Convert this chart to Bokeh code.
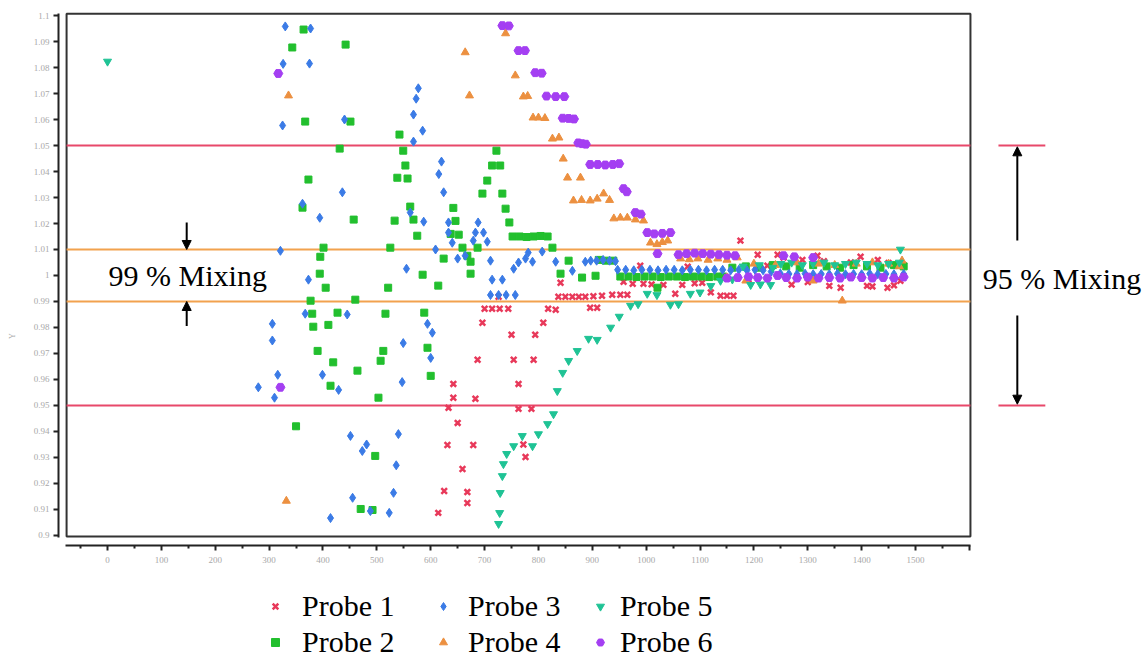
from bokeh.plotting import figure
from bokeh.models import (Range1d, FixedTicker, CustomJSTickFormatter, Label, Arrow, NormalHead,
                          Legend, LegendItem)
from bokeh.embed import file_html
from bokeh.resources import INLINE

# ---------------- data ----------------
probe1 = [(614, 0.9087), (625, 0.9171), (668, 0.9167), (668, 0.9125), (659, 0.9256), (631, 0.9348),
          (679, 0.9348), (650, 0.9433), (633, 0.9491), (642, 0.9530), (683, 0.9526), (642, 0.9583),
          (687, 0.9676), (776, 0.9302), (772, 0.9350), (763, 0.9487), (787, 0.9487), (763, 0.9583),
          (754, 0.9676), (791, 0.9676), (750, 0.9772), (794, 0.9772), (696, 0.9818), (809, 0.9818),
          (700, 0.9872), (714, 0.9872), (728, 0.9872), (744, 0.9872), (818, 0.9872), (832, 0.9868),
          (726, 0.9918), (837, 0.9918), (850, 0.9918), (863, 0.9918), (875, 0.9918), (887, 0.9918),
          (841, 0.9972), (896, 0.9876), (909, 0.9876), (902, 0.9920), (918, 0.9922), (937, 0.9926),
          (952, 0.9926), (965, 0.9926), (958, 0.9976), (989, 1.0038), (975, 0.9968), (995, 0.9968),
          (1010, 0.9966), (1032, 0.9964), (1054, 0.9930), (1067, 0.9964), (1077, 1.0034), (1090, 0.9970),
          (1104, 0.9972), (1120, 0.9935), (1138, 0.9922), (1150, 0.9922), (1162, 0.9922), (1175, 1.0134),
          (1190, 0.9985), (1207, 1.0080), (1225, 1.0038), (1244, 1.0080), (1255, 1.0069), (1270, 0.9965),
          (1290, 1.0060), (1300, 0.9975), (1318, 1.0076), (1330, 1.0055), (1340, 0.9960), (1361, 0.9953),
          (1380, 1.0050), (1398, 1.0072), (1410, 0.9960), (1420, 0.9958), (1430, 1.0060), (1448, 0.9953),
          (1450, 1.0048), (1460, 0.9962), (1472, 0.9980), (1478, 1.0040)]

probe2 = [(364, 1.0946), (343, 1.0877), (442, 1.0888), (367, 1.0592), (451, 1.0592), (542, 1.0542),
          (431, 1.0488), (549, 1.0480), (553, 1.0423), (373, 1.0369), (538, 1.0376), (557, 1.0373),
          (362, 1.0261), (457, 1.0215), (562, 1.0265), (533, 1.0211), (568, 1.0215), (575, 1.0153),
          (401, 1.0107), (525, 1.0107), (395, 1.0072), (394, 1.0007), (585, 1.0003), (405, 0.9953),
          (521, 0.9953), (460, 0.9907), (377, 0.9903), (380, 0.9853), (427, 0.9857), (516, 0.9853),
          (588, 0.9857), (382, 0.9803), (410, 0.9810), (390, 0.9710), (512, 0.9710), (594, 0.9722),
          (419, 0.9666), (507, 0.9672), (464, 0.9634), (414, 0.9576), (503, 0.9530), (350, 0.9420),
          (497, 0.9306), (470, 0.9102), (492, 0.9098), (600, 0.9614),
          (722, 1.0480), (714, 1.0423), (729, 1.0423), (705, 1.0365), (696, 1.0315), (733, 1.0315),
          (642, 1.0260), (739, 1.0257), (646, 1.0210), (746, 1.0204), (652, 1.0157), (637, 1.0160),
          (752, 1.0150), (765, 1.0150), (778, 1.0148), (791, 1.0150), (804, 1.0152), (817, 1.0150),
          (826, 1.0107), (659, 1.0107), (687, 1.0107), (624, 1.0065), (674, 1.0053), (668, 1.0076),
          (674, 1.0007), (614, 0.9961), (856, 1.0057), (841, 1.0007), (881, 0.9992), (906, 0.9999),
          (912, 1.0060), (925, 1.0057), (939, 1.0057), (952, 0.9996), (967, 0.9996), (982, 0.9994),
          (997, 0.9996), (1012, 0.9996), (1021, 0.9953), (1027, 0.9994), (1042, 0.9996), (1057, 0.9996),
          (1072, 0.9994), (1087, 0.9996), (1102, 0.9996), (1117, 0.9994), (1132, 0.9996), (1143, 0.9996),
          (1160, 1.0030), (1185, 1.0035), (1210, 1.0030), (1235, 1.0040), (1260, 1.0035), (1285, 1.0030),
          (1310, 1.0040), (1335, 1.0035), (1360, 1.0030), (1385, 1.0040), (1410, 1.0035), (1435, 1.0030),
          (1460, 1.0040), (1478, 1.0035)]

probe3 = [(330, 1.0958), (377, 1.0950), (326, 1.0814), (375, 1.0815), (577, 1.0720), (573, 1.0680),
          (568, 1.0619), (325, 1.0577), (440, 1.0600), (585, 1.0557), (568, 1.0515), (436, 1.0320),
          (362, 1.0276), (394, 1.0222), (562, 1.0242), (587, 1.0207), (321, 1.0095), (555, 1.0026),
          (373, 0.9984), (367, 0.9853), (445, 0.9850), (594, 0.9814), (306, 0.9814), (306, 0.9750),
          (549, 0.9740), (316, 0.9618), (399, 0.9618), (547, 0.9590), (429, 0.9560), (310, 0.9530),
          (451, 0.9383), (481, 0.9350), (473, 0.9325), (540, 0.9390), (536, 0.9270), (531, 0.9164),
          (455, 0.9145), (488, 0.9094), (523, 0.9087), (414, 0.9067), (280, 0.9570),
          (620, 1.0438), (615, 1.0390), (624, 1.0320), (633, 1.0204), (688, 1.0204), (633, 1.0165),
          (683, 1.0165), (698, 1.0165), (640, 1.0126), (679, 1.0134), (705, 1.0130), (609, 1.0100),
          (664, 1.0076), (650, 1.0065), (711, 1.0057), (781, 1.0088), (807, 1.0092), (763, 1.0050),
          (776, 1.0065), (789, 1.0053), (832, 1.0053), (754, 1.0026), (863, 1.0018), (887, 1.0053),
          (714, 0.9984), (733, 0.9984), (711, 0.9925), (726, 0.9925), (740, 0.9925), (757, 0.9925),
          (603, 0.9780), (600, 0.9683),
          (897, 1.0057), (908, 1.0057), (920, 1.0060), (932, 1.0057), (943, 1.0055),
          (947, 1.0022), (962, 1.0022), (977, 1.0020), (992, 1.0022), (1007, 1.0022), (1022, 1.0020),
          (1037, 1.0022), (1052, 1.0022), (1067, 1.0020), (1082, 1.0022), (1097, 1.0022), (1112, 1.0020),
          (1127, 1.0022), (1142, 1.0022), (1157, 1.0020), (1172, 1.0022), (1187, 1.0020), (1202, 1.0022),
          (1217, 1.0020), (1232, 1.0015), (1249, 1.0008), (1265, 1.0006), (1280, 1.0005), (1295, 1.0007),
          (1310, 1.0005), (1325, 1.0006), (1340, 1.0005), (1355, 1.0007), (1370, 1.0005), (1385, 1.0006),
          (1400, 1.0005), (1415, 1.0007), (1430, 1.0005), (1445, 1.0006), (1460, 1.0005), (1478, 1.0006)]

probe4 = [(336, 1.0692), (332, 0.9133), (739, 1.0931), (664, 1.0858), (757, 1.0769), (672, 1.0692),
          (772, 1.0688), (780, 1.0690), (790, 1.0607), (800, 1.0607), (812, 1.0605), (826, 1.0526),
          (838, 1.0530), (846, 1.0449), (854, 1.0376), (878, 1.0376), (865, 1.0288), (880, 1.0290),
          (896, 1.0288), (909, 1.0295), (921, 1.0315), (932, 1.0290), (940, 1.0219), (952, 1.0222),
          (965, 1.0222), (980, 1.0215), (995, 1.0211), (1008, 1.0126), (1020, 1.0120), (1030, 1.0128),
          (1040, 1.0134), (1064, 1.0065), (1080, 1.0062), (1096, 1.0065), (1115, 1.0060), (1133, 1.0065),
          (1150, 1.0060), (1169, 1.0069), (1150, 0.9992), (1185, 0.9980), (1310, 0.9980), (1364, 0.9903),
          (1200, 1.0045), (1240, 1.0040), (1280, 1.0050), (1320, 1.0045), (1350, 1.0040), (1390, 1.0045),
          (1420, 1.0050), (1450, 1.0045), (1470, 1.0035), (1475, 1.0057)]

probe5 = [(0, 1.0823), (726, 0.9045), (728, 0.9087), (729, 0.9164), (733, 0.9229), (735, 0.9275),
          (741, 0.9314), (754, 0.9344), (770, 0.9383), (789, 0.9344), (800, 0.9390), (817, 0.9429),
          (828, 0.9467), (835, 0.9556), (845, 0.9626), (856, 0.9672), (872, 0.9710), (893, 0.9757),
          (909, 0.9753), (934, 0.9800), (950, 0.9842), (971, 0.9884), (985, 0.9890), (1002, 0.9930),
          (1020, 0.9925), (1045, 0.9888), (1060, 0.9890), (1082, 0.9930), (1100, 0.9935), (1120, 0.9960),
          (1138, 0.9980), (1160, 0.9985), (1194, 0.9964), (1212, 0.9966), (1231, 0.9964),
          (1180, 1.0035), (1210, 1.0040), (1235, 1.0030), (1250, 1.0045), (1270, 1.0050), (1290, 1.0040),
          (1310, 1.0045), (1330, 1.0050), (1350, 1.0040), (1370, 1.0045), (1390, 1.0050), (1410, 1.0045),
          (1430, 1.0040), (1450, 1.0045), (1470, 1.0050), (1472, 1.0100)]

probe6 = [(317, 1.0777), (321, 0.9570), (733, 1.0961), (745, 1.0960), (763, 1.0865), (775, 1.0865),
          (794, 1.0780), (806, 1.0778), (815, 1.0690), (832, 1.0688), (848, 1.0688), (845, 1.0605),
          (856, 1.0604), (866, 1.0602), (874, 1.0510), (881, 1.0507), (888, 1.0505), (896, 1.0427),
          (910, 1.0427), (924, 1.0425), (938, 1.0427), (950, 1.0430), (958, 1.0334), (964, 1.0322),
          (980, 1.0242), (990, 1.0236), (1002, 1.0165), (1015, 1.0160), (1030, 1.0162), (1045, 1.0165),
          (1021, 1.0084), (1060, 1.0080), (1075, 1.0084), (1090, 1.0086), (1105, 1.0084), (1120, 1.0082),
          (1135, 1.0080), (1150, 1.0078), (1165, 1.0076), (1255, 1.0076), (1275, 1.0072), (1310, 1.0069),
          (1150, 0.9990), (1170, 0.9992), (1190, 0.9995), (1207, 0.9992), (1225, 0.9990), (1244, 1.0000),
          (1260, 0.9992), (1280, 0.9990), (1300, 0.9994), (1320, 0.9990), (1340, 0.9992), (1360, 0.9990),
          (1380, 0.9994), (1400, 0.9992), (1420, 0.9990), (1440, 0.9992), (1460, 0.9990), (1478, 0.9994)]

labels = ["Probe 1", "Probe 2", "Probe 3", "Probe 4", "Probe 5", "Probe 6"]
x_ticks = [0, 100, 200, 300, 400, 500, 600, 700, 800, 900, 1000, 1100, 1200, 1300, 1400, 1500, 1600]
x_minor = [-50, 50, 150, 250, 350, 450, 550, 650, 750, 850, 950, 1050, 1150, 1250, 1350, 1450, 1550]
y_ticks = [0.9, 0.91, 0.92, 0.93, 0.94, 0.95, 0.96, 0.97, 0.98, 0.99, 1.0,
           1.01, 1.02, 1.03, 1.04, 1.05, 1.06, 1.07, 1.08, 1.09, 1.1]
limits_95 = [0.95, 1.05]
limits_99 = [0.99, 1.01]

# ---------------- styling ----------------
colors = ["#e8395a", "#22bf2e", "#3b7be6", "#ec9040", "#1fc395", "#a43ff2"]
markers = ["x", "square", "diamond", "triangle", "inverted_triangle", "hex"]
sizes = [8, 7, 9, 8, 8, 9]
RED = "#e8486a"
ORANGE = "#f2a24e"
SERIF = "Liberation Serif"

p = figure(width=1144, height=660, x_range=Range1d(-91, 1921.4), y_range=Range1d(0.85192, 1.10154),
           output_backend="svg", toolbar_location=None,
           min_border_left=58, min_border_top=11, min_border_right=2, min_border_bottom=0)
p.outline_line_color = None
p.grid.visible = False

# frame box
p.quad(left=[-76], right=[1602], top=[1.10065], bottom=[0.89962],
       fill_color=None, line_color="#333333", line_width=2)

# limit lines
for yv in limits_95:
    p.segment(x0=[-76], x1=[1602], y0=[yv], y1=[yv], line_color=RED, line_width=2)
    p.segment(x0=[1654], x1=[1741], y0=[yv], y1=[yv], line_color=RED, line_width=2)
for yv in limits_99:
    p.segment(x0=[-76], x1=[1602], y0=[yv], y1=[yv], line_color=ORANGE, line_width=2)

renderers = []
for data, col, mk, sz in zip([probe1, probe2, probe3, probe4, probe5, probe6], colors, markers, sizes):
    xs = [d[0] for d in data]
    ys = [d[1] for d in data]
    if mk == "x":
        r = p.scatter(xs, ys, marker=mk, size=sz, line_color=col, line_width=2.5)
    else:
        r = p.scatter(xs, ys, marker=mk, size=sz, fill_color=col, line_color=col)
    renderers.append(r)

# axes (x axis drawn at a fixed place inside the canvas, below the box)
p.xaxis.fixed_location = 0.89615
p.xaxis.ticker = FixedTicker(ticks=x_ticks, minor_ticks=x_minor)
p.xaxis.formatter = CustomJSTickFormatter(code="return tick > 1550 ? '' : tick.toFixed(0);")
p.xaxis.bounds = (-78, 1602)
p.yaxis.ticker = FixedTicker(ticks=y_ticks, minor_ticks=[])
p.yaxis.formatter = CustomJSTickFormatter(code="return String(Math.round(tick * 100) / 100);")
p.yaxis.bounds = (0.8993, 1.1008)
for ax in [p.xaxis[0], p.yaxis[0]]:
    ax.axis_line_width = 2
    ax.axis_line_color = "#222222"
    ax.major_tick_line_color = "#222222"
    ax.major_tick_line_width = 2
    ax.major_tick_in = 0
    ax.minor_tick_in = 0
    ax.minor_tick_line_color = "#222222"
    ax.minor_tick_line_width = 2
    ax.major_label_text_font = SERIF
    ax.major_label_text_font_size = "9px"
    ax.major_label_text_color = "#a8a8a8"
p.xaxis.major_tick_out = 5
p.xaxis.minor_tick_out = 3
p.xaxis.major_label_standoff = 6
p.yaxis.major_tick_out = 5
p.yaxis.major_label_standoff = 4
p.yaxis.axis_label = "Y"
p.yaxis.axis_label_text_font = SERIF
p.yaxis.axis_label_text_font_size = "8px"
p.yaxis.axis_label_text_font_style = "normal"
p.yaxis.axis_label_text_color = "#a8a8a8"
p.yaxis.axis_label_standoff = 14

# annotations
p.add_layout(Label(x=2, y=1.0, text="99 % Mixing", text_font=SERIF, text_font_size="30px",
                   text_color="black", text_baseline="middle"))
p.add_layout(Label(x=1625, y=0.999, text="95 % Mixing", text_font=SERIF, text_font_size="30px",
                   text_color="black", text_baseline="middle"))

def arrow(x, y0, y1):
    return Arrow(end=NormalHead(size=9, fill_color="black", line_color="black"),
                 x_start=x, y_start=y0, x_end=x, y_end=y1, line_width=2, line_color="black")

p.add_layout(arrow(147, 1.0204, 1.0100))
p.add_layout(arrow(147, 0.9806, 0.9900))
p.add_layout(arrow(1689, 1.0135, 1.0495))
p.add_layout(arrow(1689, 0.9846, 0.9505))

# legend: three columns of two entries, placed below the axis
for i, (vx, standoff) in enumerate([(207, 17), (375, 15), (532, 10)]):
    items = [LegendItem(label=labels[2 * i], renderers=[renderers[2 * i]]),
             LegendItem(label=labels[2 * i + 1], renderers=[renderers[2 * i + 1]])]
    p.add_layout(Legend(items=items, location=(vx, 1), orientation="vertical",
                        label_text_font=SERIF, label_text_font_size="30px", label_text_color="black",
                        background_fill_alpha=0, border_line_color=None, padding=0, margin=0,
                        spacing=2, glyph_width=20, glyph_height=20, label_standoff=standoff))

open("out.html", "w").write(file_html(p, INLINE))
